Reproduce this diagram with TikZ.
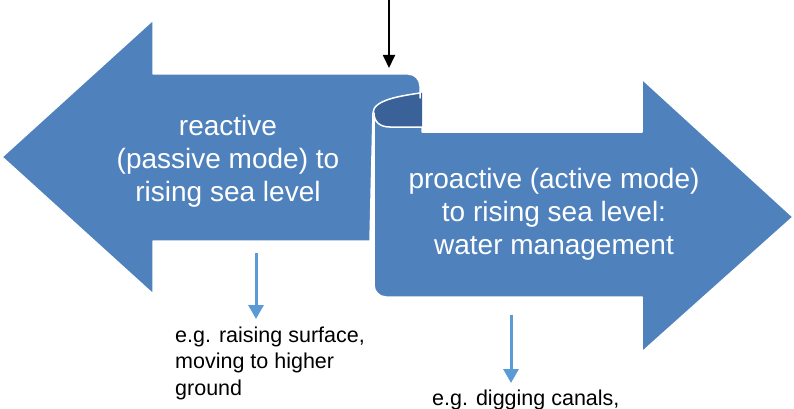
\documentclass[tikz,border=0pt]{standalone}
\usepackage{fontspec}
\setmainfont{Liberation Sans}
\usetikzlibrary{arrows.meta}
\definecolor{scrollblue}{RGB}{79,129,189}
\definecolor{scrolldark}{RGB}{58,98,152}
\definecolor{pointerblue}{RGB}{91,155,213}

\begin{document}
\begin{tikzpicture}[x=1pt,y=-1pt]
    \tikzstyle{bigarrow}=[fill=scrollblue,draw=white,line width=1.5pt,line join=round]
    \tikzstyle{intext}=[text=white,align=center,inner sep=0pt,font=\fontsize{28}{33}\selectfont]
    \tikzstyle{extext}=[text=black,align=left,inner sep=0pt,font=\fontsize{21.5}{26.5}\selectfont]
    \tikzstyle{pointer}=[draw=pointerblue,line width=3pt,-{Triangle[width=15pt,length=14pt]}]

    \useasboundingbox (0,0) rectangle (794,409);

    % inside of the curl
    \fill[scrolldark] (420,93) .. controls (400,96) and (373,100) .. (373,113)
        .. controls (373,122) and (380,127) .. (390,127) -- (422,127) -- (422,93) -- cycle;

    % left arrow, with the top of the scroll
    \path[bigarrow] (2,157) -- (153,20) -- (153,74)
        [rounded corners=12pt] -- (420,74) -- (420,86) [sharp corners] -- (420,93)
        .. controls (400,96) and (373,100) .. (373,113) -- (370,241)
        -- (153,241) -- (153,294) -- cycle;

    % right arrow, the front of the scroll
    \path[bigarrow] (374,113) .. controls (374,122) and (380,127) .. (390,127)
        -- (422,127) -- (422,132) -- (642,132) -- (642,79) -- (793,217)
        -- (642,352) -- (642,297) [rounded corners=12pt] -- (374,297)
        -- (374,200) [sharp corners] -- cycle;

    % texts
    \node[intext] (reactive) at (228,161) {reactive\\(passive mode) to\\rising sea level};
    \node[intext] (proactive) at (554,214) {proactive (active mode)\\to rising sea level:\\water management};
    \node[extext,anchor=west] (reactex) at (175,363) {e.g. raising surface,\\moving to higher\\ground};
    \node[extext,anchor=base west] (proactex) at (432,405) {e.g. digging canals,};

    % pointers
    \coordinate (drop) at (389,0);
    \coordinate (fold) at (389,68);
    \draw[line width=1.8pt,-{Triangle[width=12pt,length=13pt]}] (drop) -- (fold);

    \coordinate (reactfrom) at (256,253);
    \coordinate (reactto) at (256,319);
    \draw[pointer] (reactfrom) -- (reactto);

    \coordinate (proactfrom) at (511,315);
    \coordinate (proactto) at (511,383);
    \draw[pointer] (proactfrom) -- (proactto);
\end{tikzpicture}
\end{document}
